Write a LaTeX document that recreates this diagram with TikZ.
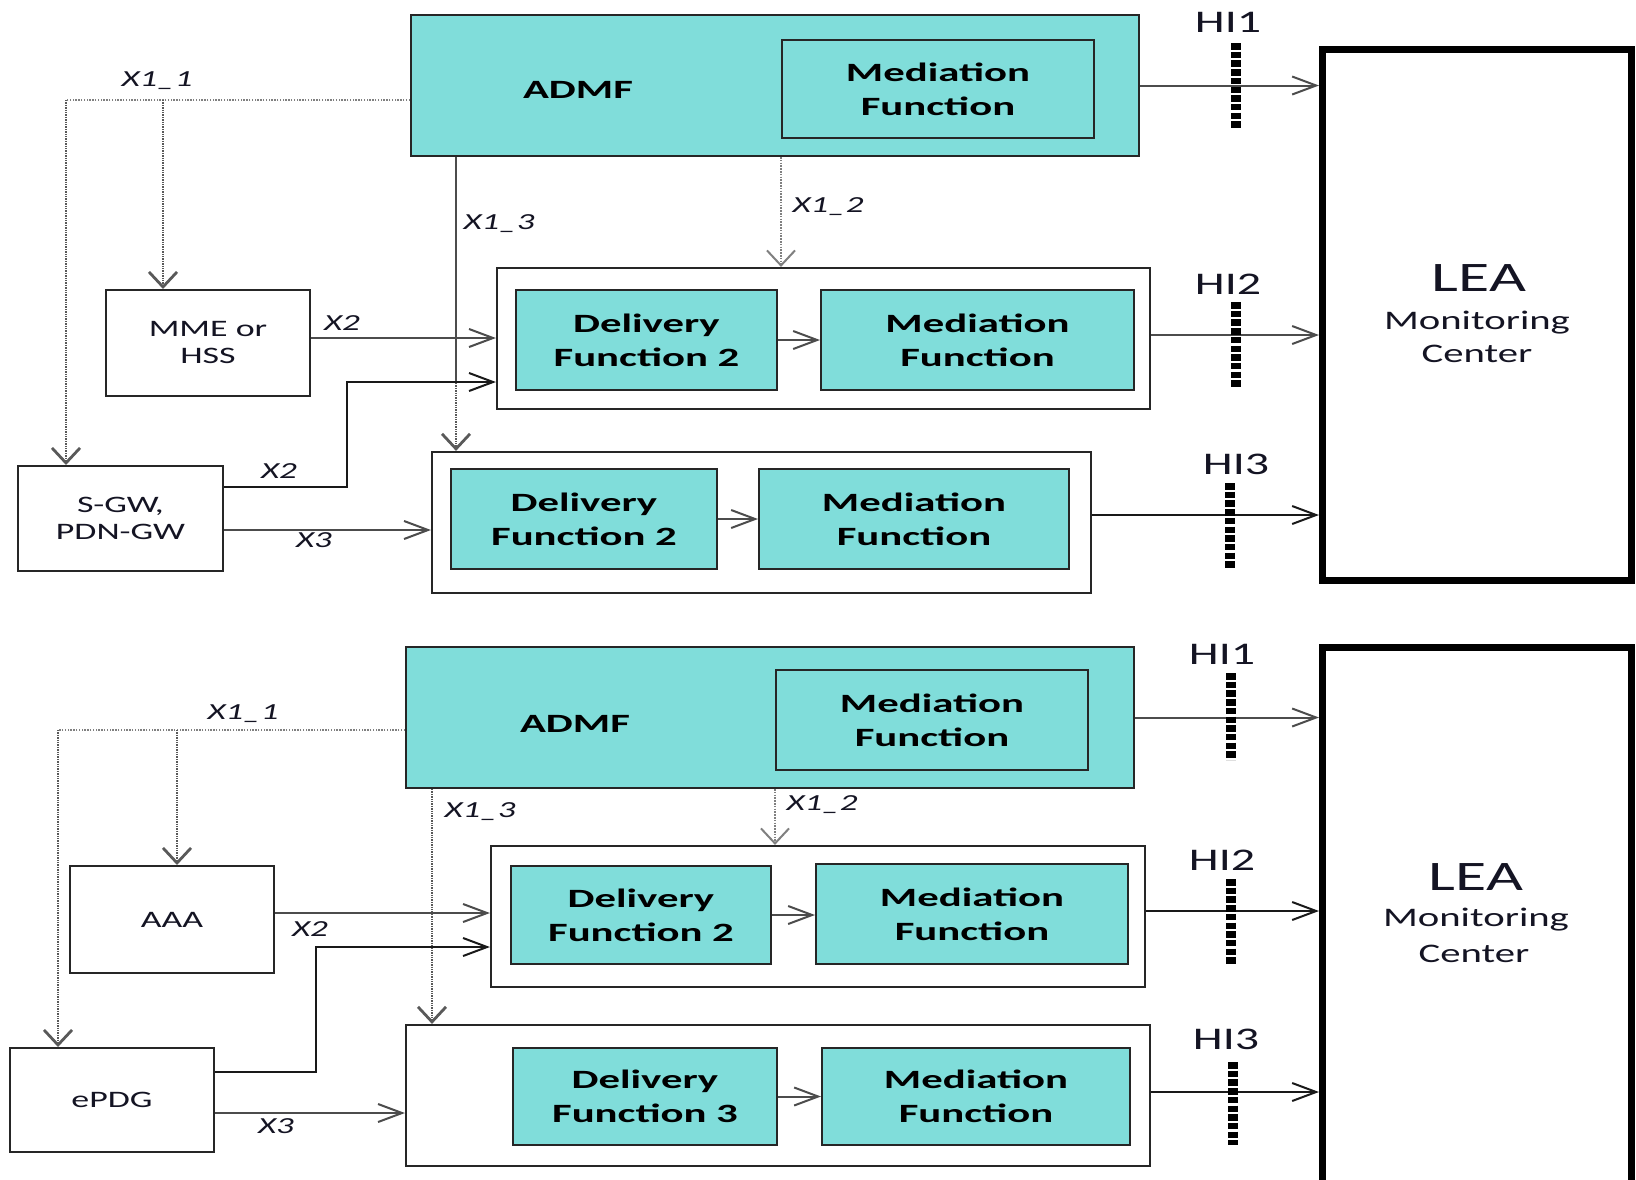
\documentclass[tikz,border=0pt]{standalone}
\usepackage{fontspec}
\setmainfont{Carlito}
\newfontfamily\widereg[FakeStretch=1.52]{Carlito}
\newfontfamily\widebold[FakeStretch=1.62]{Carlito}
\usetikzlibrary{arrows.meta}
\definecolor{admfteal}{RGB}{128,221,218}
\definecolor{inkc}{RGB}{20,20,35}
\tikzset{
  tealbox/.style={draw=black!85, line width=2pt, fill=admfteal, inner sep=0pt, align=center,
    font=\widebold\bfseries\fontsize{26.4}{34}\selectfont},
  hostbox/.style={draw=black!85, line width=2.2pt, fill=white, inner sep=0pt},
  plainbox/.style={draw=black!85, line width=2pt, fill=white, inner sep=0pt, align=center,
    text=inkc, font=\widereg\fontsize{23.6}{27}\selectfont},
  leabox/.style={draw=black, line width=7pt, fill=white, inner sep=0pt},
  conn/.style={draw=black!70, line width=2pt},
  hah/.style={-{Straight Barb[length=24pt,width=18pt]}},
  vah/.style={-{Straight Barb[length=15pt,width=28pt]}},
  dotv/.style={draw=black!65, line width=2.8pt, dash pattern=on 1.4pt off 1pt},
  doth/.style={draw=black!50, line width=2pt, dash pattern=on 1.5pt off 1.3pt},
  hibar/.style={draw=black, line width=10pt, dash pattern=on 6.5pt off 2.2pt},
  xlab/.style={inner sep=0pt, text=inkc, font=\widereg\itshape\fontsize{23}{27}\selectfont},
  hilab/.style={inner sep=0pt, text=inkc, font=\widereg\fontsize{31.5}{34}\selectfont},
  bigtxt/.style={inner sep=0pt, text=inkc, font=\widereg\fontsize{42}{44}\selectfont},
  midtxt/.style={inner sep=0pt, text=inkc, font=\widereg\fontsize{26.8}{30}\selectfont},
  admftxt/.style={inner sep=0pt, text=black, font=\widebold\bfseries\fontsize{26.4}{34}\selectfont},
}
\begin{document}
\begin{tikzpicture}[x=1pt,y=-1pt]
\useasboundingbox[fill=white] (0,0) rectangle (1636,1179);
\begin{scope}
\clip (0,0) rectangle (1636,1179);

% ================= upper system (MME / S-GW) =================
\node[tealbox, minimum width=728pt, minimum height=141pt] (admfA) at (775,85.5) {};
\node[admftxt] (admfAt) at (578,90) {ADMF};
\node[tealbox, minimum width=312pt, minimum height=98pt] (medA0) at (938,89) {Mediation\\Function};

\node[hostbox, minimum width=653pt, minimum height=141pt] (hostA2) at (823.5,338.5) {};
\node[tealbox, minimum width=261pt, minimum height=100pt] (dfA2) at (646.5,340) {Delivery\\Function 2};
\node[tealbox, minimum width=313pt, minimum height=100pt] (mfA2) at (977.5,340) {Mediation\\Function};

\node[hostbox, minimum width=659pt, minimum height=141pt] (hostA3) at (761.5,522.5) {};
\node[tealbox, minimum width=266pt, minimum height=100pt] (dfA3) at (584,519) {Delivery\\Function 2};
\node[tealbox, minimum width=310pt, minimum height=100pt] (mfA3) at (914,519) {Mediation\\Function};

\node[plainbox, minimum width=204pt, minimum height=106pt] (mmeA) at (208,343) {MME or\\HSS};
\node[plainbox, minimum width=205pt, minimum height=105pt] (sgwA) at (120.5,518.5) {S-GW,\\PDN-GW};

\node[leabox, minimum width=309pt, minimum height=531pt] (leaA) at (1477,315) {};
\node[bigtxt] (leaAt1) at (1479,278) {LEA};
\node[midtxt] (leaAt2) at (1477,323) {Monitoring};
\node[midtxt] (leaAt3) at (1477,354) {Center};

% X1 interfaces
\coordinate (jA1) at (66,100);
\coordinate (jA2) at (163,100);
\coordinate (kA3) at (456,383);
\draw[doth] ([yshift=-14.5pt]admfA.west) -- (jA1);
\draw[dotv, vah] (jA1) -- (jA1 |- sgwA.north);
\draw[dotv, vah] (jA2) -- (jA2 |- mmeA.north);
\draw[conn] (kA3 |- admfA.south) -- (kA3);
\draw[dotv, vah] (kA3) -- (kA3 |- hostA3.north);
\draw[doth, vah] (medA0.west |- admfA.south) -- (medA0.west |- hostA2.north);
\node[xlab] (lx11A) at (157,81) {X1\_1};
\node[xlab] (lx13A) at (499,224) {X1\_3};
\node[xlab] (lx12A) at (828,207) {X1\_2};

% X2 / X3 interfaces
\draw[conn, hah] ([yshift=5pt]mmeA.east) -- ([yshift=5pt]mmeA.east -| hostA2.west);
\coordinate (bA) at (347,487);
\draw[conn, draw=black!90, hah] (sgwA.east |- bA) -- (bA) -- (347,382) -- (hostA2.west |- {(0,382)});
\draw[conn, hah] ([yshift=-11.5pt]sgwA.east) -- ([yshift=-11.5pt]sgwA.east -| hostA3.west);
\node[xlab] (lx2aA) at (342,323) {X2};
\node[xlab] (lx2bA) at (279,471) {X2};
\node[xlab] (lx3A) at (314,540) {X3};

% internal links
\draw[conn, hah] (dfA2.east) -- (mfA2.west);
\draw[conn, hah] (dfA3.east) -- (mfA3.west);

% handover interfaces
\draw[conn, hah] (admfA.east) -- (admfA.east -| leaA.west);
\draw[conn, hah] ([yshift=3.5pt]hostA2.east) -- ([yshift=3.5pt]hostA2.east -| leaA.west);
\draw[conn, draw=black!90, hah] ([yshift=7.5pt]hostA3.east) -- ([yshift=7.5pt]hostA3.east -| leaA.west);
\draw[hibar] (1236,43) -- (1236,129);
\draw[hibar] (1236,302) -- (1236,388);
\draw[hibar] (1230,483) -- (1230,568);
\node[hilab] (hi1A) at (1228,22) {HI1};
\node[hilab] (hi2A) at (1228,284) {HI2};
\node[hilab] (hi3A) at (1236,464) {HI3};

% ================= lower system (AAA / ePDG) =================
\node[tealbox, minimum width=728pt, minimum height=141pt] (admfB) at (770,717.5) {};
\node[admftxt] (admfBt) at (575,724) {ADMF};
\node[tealbox, minimum width=312pt, minimum height=100pt] (medB0) at (932,720) {Mediation\\Function};

\node[hostbox, minimum width=654pt, minimum height=141pt] (hostB2) at (818,916.5) {};
\node[tealbox, minimum width=260pt, minimum height=98pt] (dfB2) at (641,915) {Delivery\\Function 2};
\node[tealbox, minimum width=312pt, minimum height=100pt] (mfB2) at (972,914) {Mediation\\Function};

\node[hostbox, minimum width=744pt, minimum height=141pt] (hostB3) at (778,1095.5) {};
\node[tealbox, minimum width=264pt, minimum height=97pt] (dfB3) at (645,1096.5) {Delivery\\Function 3};
\node[tealbox, minimum width=308pt, minimum height=97pt] (mfB3) at (976,1096.5) {Mediation\\Function};

\node[plainbox, minimum width=204pt, minimum height=107pt] (aaaB) at (172,919.5) {AAA};
\node[plainbox, minimum width=204pt, minimum height=104pt] (epdgB) at (112,1100) {ePDG};

\node[leabox, minimum width=309pt, minimum height=560pt] (leaB) at (1477,927.5) {};
\node[bigtxt] (leaBt1) at (1476,877) {LEA};
\node[midtxt] (leaBt2) at (1476,920) {Monitoring};
\node[midtxt] (leaBt3) at (1474,954) {Center};

% X1 interfaces
\coordinate (jB1) at (58,730);
\coordinate (jB2) at (177,730);
\coordinate (kB3) at (432,800);
\draw[doth] ([yshift=-12.5pt]admfB.west) -- (jB1);
\draw[dotv, vah] (jB1) -- (jB1 |- epdgB.north);
\draw[dotv, vah] (jB2) -- (jB2 |- aaaB.north);
\draw[dotv, vah] (kB3 |- admfB.south) -- (kB3 |- hostB3.north);
\draw[doth, vah] (medB0.west |- admfB.south) -- (medB0.west |- hostB2.north);
\node[xlab] (lx11B) at (243,714) {X1\_1};
\node[xlab] (lx13B) at (480,812) {X1\_3};
\node[xlab] (lx12B) at (822,805) {X1\_2};

% X2 / X3 interfaces
\draw[conn, hah] ([yshift=6.5pt]aaaB.east) -- ([yshift=6.5pt]aaaB.east -| hostB2.west);
\coordinate (bB) at (316,1072);
\draw[conn, draw=black!90, hah] (epdgB.east |- bB) -- (bB) -- (316,947) -- (hostB2.west |- {(0,947)});
\draw[conn, hah] ([yshift=-13pt]epdgB.east) -- ([yshift=-13pt]epdgB.east -| hostB3.west);
\node[xlab] (lx2B) at (310,929) {X2};
\node[xlab] (lx3B) at (276,1126) {X3};

% internal links
\draw[conn, hah] (dfB2.east) -- (dfB2.east -| mfB2.west);
\draw[conn, hah] (dfB3.east) -- (mfB3.west);

% handover interfaces
\draw[conn, hah] (admfB.east) -- (admfB.east -| leaB.west);
\draw[conn, draw=black!90, hah] ([yshift=5.5pt]hostB2.east) -- ([yshift=5.5pt]hostB2.east -| leaB.west);
\draw[conn, draw=black!90, hah] ([yshift=3.5pt]hostB3.east) -- ([yshift=3.5pt]hostB3.east -| leaB.west);
\draw[hibar] (1231,673) -- (1231,760);
\draw[hibar] (1231,879) -- (1231,964);
\draw[hibar] (1233,1062) -- (1233,1145);
\node[hilab] (hi1B) at (1222,654) {HI1};
\node[hilab] (hi2B) at (1222,860) {HI2};
\node[hilab] (hi3B) at (1226,1039) {HI3};
\end{scope}
\end{tikzpicture}
\end{document}
